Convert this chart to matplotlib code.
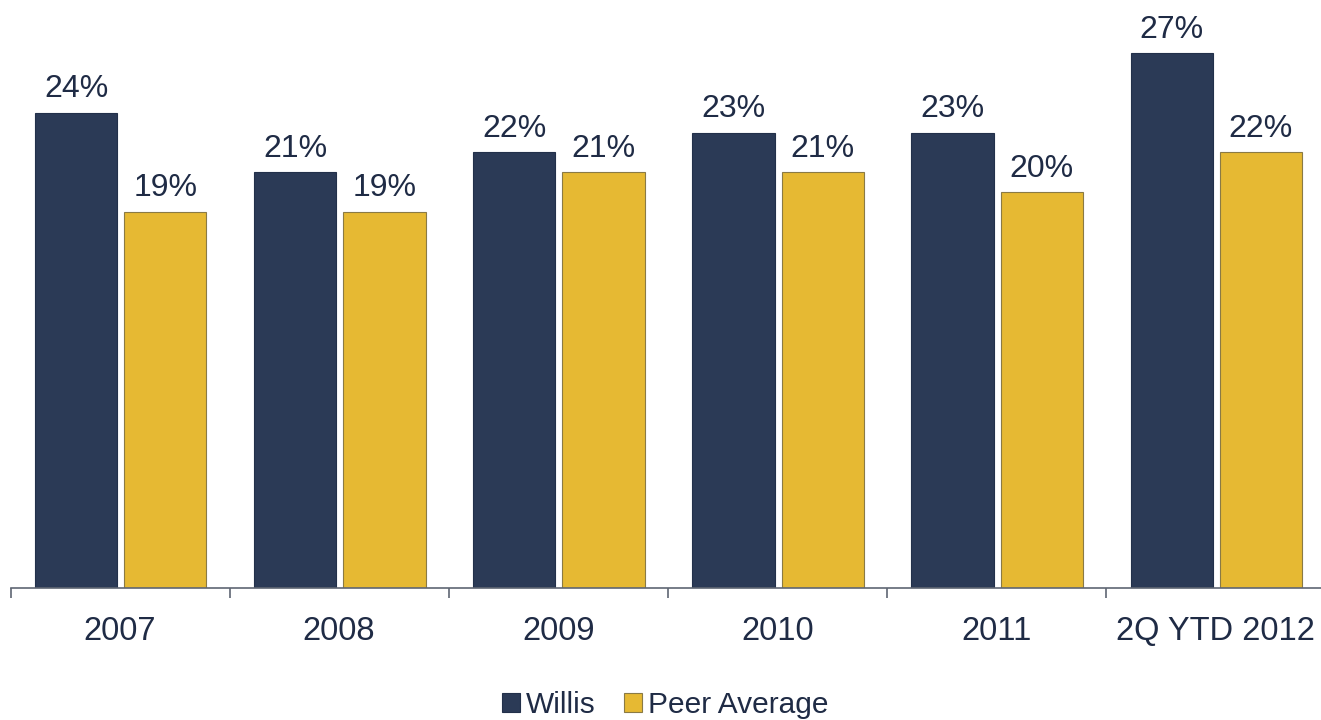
import numpy as np
import matplotlib
matplotlib.use('Agg')
from matplotlib import pyplot as plt

plt.rcParams['font.family'] = ['Liberation Sans', 'DejaVu Sans']

# data
categories = ['2007', '2008', '2009', '2010', '2011', '2Q YTD 2012']
willis = [24, 21, 22, 23, 23, 27]
peer = [19, 19, 21, 21, 20, 22]

navy = '#2B3A56'
gold = '#E6B933'
txt = '#1F2B45'

W, H = 1321, 720
fig = plt.figure(figsize=(W / 100, H / 100), dpi=100)
ax = fig.add_axes([10.5 / W, (H - 588) / H, 1314.5 / W, 554.4 / H])

x = np.arange(len(categories))
bw = 0.375
b1 = ax.bar(x - 0.2, willis, bw, color=navy, edgecolor='#22304a', lw=0.8, label='Willis')
b2 = ax.bar(x + 0.207, peer, bw, color=gold, edgecolor='#8a7a45', lw=0.8, label='Peer Average')

for bars, vals in ((b1, willis), (b2, peer)):
    for b, v in zip(bars, vals):
        ax.annotate('{0}%'.format(v), (b.get_x() + b.get_width() / 2, v),
                    xytext=(0, 6), textcoords='offset points',
                    ha='center', va='bottom', fontsize=23, color=txt)

ax.set_xlim(-0.5, len(categories) - 0.5)
ax.set_ylim(0, 28)
ax.set_yticks([])
for s in ['top', 'right', 'left']:
    ax.spines[s].set_visible(False)
ax.spines['bottom'].set_color('#5f6673')
ax.spines['bottom'].set_linewidth(1.2)

ax.set_xticks(x)
ax.set_xticklabels(categories, fontsize=23.5, color=txt)
ax.tick_params(axis='x', which='major', length=0, pad=20)
ax.set_xticks(np.arange(-0.5, len(categories)), minor=True)
ax.tick_params(axis='x', which='minor', length=7, width=1.2, color='#5f6673', direction='out')

fig.legend(handles=[b1, b2], loc='center', bbox_to_anchor=(665 / W, 1 - 705 / H), ncol=2,
           frameon=False, fontsize=21.5, handlelength=0.6, handleheight=0.6,
           handletextpad=0.2, columnspacing=0.95, labelcolor=txt)

fig.savefig('out.png', dpi=100)
